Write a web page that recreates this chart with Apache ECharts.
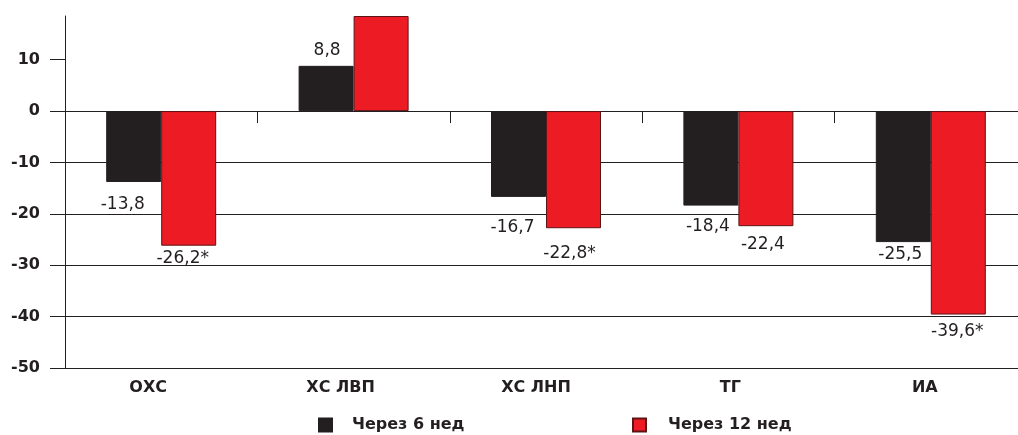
<!DOCTYPE html>
<html>
<head>
<meta charset="utf-8">
<script src="https://cdn.jsdelivr.net/npm/echarts@6/dist/echarts.min.js"></script>
<style>
  html, body { margin: 0; padding: 0; background: #fff; }
  #chart { width: 1018px; height: 435px; }
</style>
</head>
<body>
<div id="chart"></div>
<script>
const categories = ["ОХС", "ХС ЛВП", "ХС ЛНП", "ТГ", "ИА"];
const week6 = [-13.8, 8.8, -16.7, -18.4, -25.5];
const week12 = [-26.2, 18.5, -22.8, -22.4, -39.6];
const week6Labels = ["-13,8", "8,8", "-16,7", "-18,4", "-25,5"];
const week12Labels = ["-26,2*", "", "-22,8*", "-22,4", "-39,6*"];
const yTicks = [-50, -40, -30, -20, -10, 0, 10];

const ink = "#231f20";
const font = "DejaVu Sans, sans-serif";

// label nudges
const gap6 = [14, 7, 22, 12, 4];
const gap12 = [4, 0, 17, 10, 9];
const shift6 = [-11, 1, -6, -3, -3];
const shift12 = [-6, 0, -4, -3, -1];
const catShift = [13, 13, 10, 8, 6];

function barData(values, labels, gaps, shifts) {
  return values.map((v, i) => ({
    value: v,
    label: {
      show: labels[i] !== "",
      position: v >= 0 ? "top" : "bottom",
      distance: gaps[i],
      offset: [shifts[i], 0],
      formatter: labels[i]
    }
  }));
}

const catRich = {};
catShift.forEach((s, i) => {
  catRich["c" + i] = {
    fontFamily: font, fontSize: 16, fontWeight: "bold", color: ink,
    padding: [0, s * 2, 0, 0]
  };
});

const chart = echarts.init(document.getElementById("chart"));

chart.setOption({
  animation: false,
  textStyle: { fontFamily: font, color: ink },
  grid: { left: 65, top: 16, width: 962, height: 352, containLabel: false, outerBoundsMode: "none" },
  legend: [
    {
      left: 313, top: 412,
      icon: "rect", itemWidth: 13, itemHeight: 13,
      textStyle: { fontFamily: font, fontSize: 16, fontWeight: "bold", color: ink, padding: [0, 0, 0, 15] },
      data: ["Через 6 нед"]
    },
    {
      left: 627, top: 412,
      icon: "rect", itemWidth: 13, itemHeight: 13,
      textStyle: { fontFamily: font, fontSize: 16, fontWeight: "bold", color: ink, padding: [0, 0, 0, 17] },
      data: ["Через 12 нед"]
    }
  ],
  xAxis: [
    {
      type: "category",
      data: categories,
      position: "bottom",
      axisLine: { onZero: true, lineStyle: { color: ink, width: 1 } },
      axisTick: { show: true, length: 12, interval: 0, lineStyle: { color: ink } },
      axisLabel: { show: false },
      splitLine: { show: false }
    },
    {
      type: "category",
      data: categories,
      position: "bottom",
      axisLine: { show: false, onZero: false },
      axisTick: { show: false },
      axisLabel: {
        margin: 12,
        interval: 0,
        formatter: (v, i) => "{c" + i + "|" + v + "}",
        rich: catRich
      }
    }
  ],
  yAxis: {
    type: "value",
    min: -50,
    max: 18.5,
    interval: 10,
    axisLine: { show: true, lineStyle: { color: ink, width: 1 } },
    axisTick: { show: true, length: 15, customValues: yTicks, lineStyle: { color: ink } },
    axisLabel: {
      margin: 25,
      customValues: yTicks,
      fontFamily: font, fontSize: 16, fontWeight: "bold", color: ink
    },
    splitLine: { show: true, showMaxLine: false, lineStyle: { color: ink, width: 1 } }
  },
  series: [
    {
      name: "Через 6 нед",
      type: "bar",
      xAxisIndex: 0,
      barWidth: 55,
      barGap: "0%",
      itemStyle: { color: ink, borderColor: ink, borderWidth: 1 },
      label: { fontFamily: font, fontSize: 17, color: ink },
      data: barData(week6, week6Labels, gap6, shift6)
    },
    {
      name: "Через 12 нед",
      type: "bar",
      xAxisIndex: 0,
      barWidth: 55,
      barGap: "0%",
      itemStyle: { color: "#ed1c24", borderColor: "#5c1416", borderWidth: 1 },
      label: { fontFamily: font, fontSize: 17, color: ink },
      data: barData(week12, week12Labels, gap12, shift12)
    }
  ]
});
</script>
</body>
</html>
